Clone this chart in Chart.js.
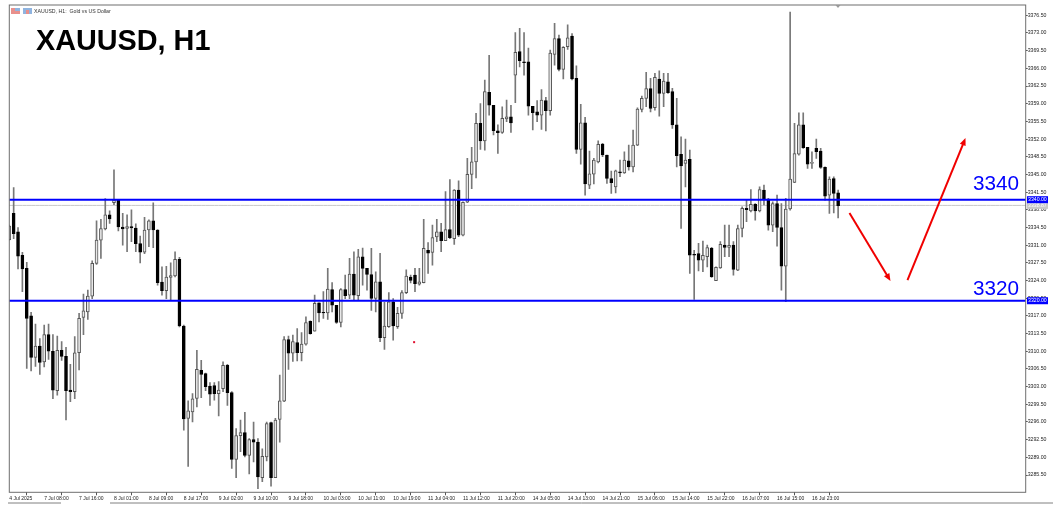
<!DOCTYPE html>
<html>
<head>
<meta charset="utf-8">
<title>XAUUSD, H1</title>
<script src="https://cdn.jsdelivr.net/npm/chart.js@4"></script>
<style>
  html, body { margin: 0; padding: 0; background: #fff; }
  canvas { display: block; }
</style>
</head>
<body>
<canvas id="chart" width="1053" height="509"></canvas>
<script>
"use strict";

const opens = [
  3332.1,3337.3,3333.65,3329,3326.4,3317,3308.8,3311,3307.9,3313.3,
  3310,3302.2,3310.2,3309,3302.3,3302,3309.7,3316.7,3317.8,3320.9,
  3327.4,3332,3334.2,3337,3339.4,3339.9,3334.6,3334.3,3334.7,3334.4,
  3331.3,3329.6,3334,3335.8,3334,3323.7,3322,3324.6,3324.9,3328.2,
  3315,3296.7,3298,3300.65,3306.2,3305.6,3303.1,3303.2,3301.6,3302.6,
  3307.2,3301.8,3288.6,3293.3,3293.9,3289.4,3292.5,3292,3285,3289.1,
  3295.9,3285,3296.5,3300.1,3312.3,3309.6,3311.7,3309.7,3311.4,3315.9,
  3314,3319.6,3317.7,3317.6,3322.2,3319.1,3315.7,3322.2,3321.1,3325.3,
  3321,3328.7,3326.4,3325.2,3320.45,3323.75,3312.7,3314.85,3319.8,3314.85,
  3317.5,3321.6,3324.7,3325.1,3323.3,3323.6,3330,3329.55,3332.65,3333.65,
  3331.9,3334.1,3332.3,3341.9,3333,3339.5,3345,3347.5,3355.1,3351.65,
  3361.25,3358.7,3353.65,3353.3,3356,3356.4,3364.65,3369.3,3367.3,3367.3,
  3358.5,3357.4,3356.75,3359.6,3357.6,3368.75,3371.9,3365.8,3370.3,3372.4,
  3364,3349.95,3355.2,3342.9,3345.05,3347.5,3351,3348.85,3344.2,3342.55,
  3345.5,3345.3,3347.7,3346.5,3350.8,3357.85,3360.05,3362,3358.2,3363.9,
  3361.05,3363.35,3361.4,3354.8,3349,3347.2,3348,3329.2,3329.35,3328.05,
  3328.7,3330.35,3323.95,3326.5,3331,3330.55,3331,3326.05,3334.3,3338.3,
  3337.8,3339.1,3337.8,3341.9,3340.1,3334.95,3339.25,3334.5,3326.85,3338.15,
  3343.4,3349,3354.8,3350.35,3347.2,3350.15,3349.6,3346.4,3340.9,3344.2,3341.35
];
const highs = [
  3335,3342.4,3334.5,3329.6,3327.6,3317.7,3315.4,3312.5,3315.2,3315.4,
  3313.3,3313,3311.9,3310.8,3307.4,3312.9,3317.5,3321.3,3322.1,3327.9,
  3335.8,3336.1,3340.2,3337.8,3345.9,3339.9,3337.3,3337,3338,3335.2,
  3332.8,3336.5,3336,3339.4,3334.1,3326.7,3326.8,3327.5,3329.7,3328.6,
  3315.2,3300.2,3301.6,3310.2,3308.2,3305.7,3303.8,3303.8,3304,3307.9,
  3307.4,3302,3294.7,3296.4,3297.9,3292.7,3296,3292.7,3290.7,3296,
  3296,3296.7,3305.3,3312.9,3313,3313.2,3314.5,3313.7,3316.8,3316,
  3321.1,3319.6,3321.8,3326.4,3323.6,3319.1,3322.4,3325.1,3328.4,3329.7,
  3330.2,3330.4,3326.4,3330.35,3325.7,3329.4,3319.7,3321.6,3320.45,3318.7,
  3322,3326.1,3325.1,3326.4,3326.4,3336.1,3331.5,3335,3336.1,3335.3,
  3341.6,3344,3342,3343.75,3339.6,3348.2,3350.35,3357.1,3359.05,3363.7,
  3368.6,3358.7,3354.8,3358.4,3359.7,3358.7,3373.1,3373.9,3373.1,3370,
  3358.5,3359.6,3361.8,3360.25,3369.6,3374.9,3372.6,3370.3,3374.6,3372.9,
  3366.5,3358.9,3356.3,3349.6,3348.2,3351.65,3351.15,3348.85,3345.65,3345.85,
  3347.85,3349.5,3350.8,3353.8,3358.2,3360.5,3365.2,3364,3365,3365.5,
  3365,3365,3362.05,3360.05,3352.45,3352,3349.8,3330,3331.35,3331.8,
  3331,3330.55,3326.7,3331.7,3335,3335,3331.7,3335,3338.6,3339.9,
  3342,3339.25,3342.55,3342.9,3340.25,3339.6,3340.9,3339.25,3340.25,3377.15,
  3355.1,3357.2,3357.2,3350.35,3349.5,3352,3350.15,3346.5,3344.55,3344.55,3341.9
];
const lows = [
  3332,3332.3,3326.3,3321.8,3306.6,3306.1,3307,3305.4,3306.9,3308.4,
  3300.6,3301.3,3308.2,3296.4,3300,3300.6,3306.3,3313.3,3316.3,3320.4,
  3327.2,3328.4,3334,3335.3,3339,3333.8,3331,3329.7,3331.7,3329.7,
  3327.5,3329.3,3330.7,3330.5,3323.1,3321.1,3320.4,3320.1,3324.7,3314.8,
  3294.4,3287.2,3296,3299,3300.8,3302.2,3299.3,3300.3,3297.2,3302,
  3299.3,3286.8,3285,3290.1,3289.1,3285.7,3288.1,3282.8,3284.2,3288.3,
  3283.3,3285,3292,3300,3306.4,3308,3308.1,3308.1,3311.2,3313.4,
  3314,3315.8,3316.5,3316.3,3317.8,3315.5,3314.8,3320.4,3320.4,3320.1,
  3320.1,3323.1,3322.1,3318.1,3317.8,3311.9,3310.35,3314.7,3312.2,3314.5,
  3316.5,3321.4,3323.55,3321.8,3323.1,3323.55,3325.4,3327.05,3331.7,3329.7,
  3331.9,3332.3,3331.15,3332.7,3332.85,3339.4,3342.2,3344.3,3349.95,3349.8,
  3356.75,3352.8,3349.15,3353.1,3355.45,3353.3,3359.2,3366.3,3364.65,3356.75,
  3353.8,3355.45,3353.9,3353.6,3356.75,3366.65,3365.5,3363.9,3369.75,3363.7,
  3349.15,3347.05,3340.9,3342.2,3343.1,3347.3,3348.5,3343.2,3341.25,3341.35,
  3344.55,3345.2,3345.85,3345.5,3350.7,3357.4,3358.4,3357.4,3357.7,3356.55,
  3358.4,3361.05,3354.1,3346.5,3334.3,3342.55,3325.4,3320.25,3325.9,3325.75,
  3326.7,3324.6,3323.95,3326.4,3328.7,3328.7,3325.05,3325.95,3332.65,3335.65,
  3337.6,3335.95,3337.6,3338.95,3333.95,3333.65,3330.8,3322.1,3319.8,3337.95,
  3343.35,3348.8,3350.15,3346.2,3346.2,3348.15,3346.2,3339.9,3337.3,3337.4,3336.4
];
const closes = [
  3334.8,3333.3,3328.8,3326.3,3316.5,3308.8,3311,3307.8,3313.3,3310,
  3302.3,3310.2,3309,3302.2,3302,3309.7,3316.5,3318,3320.9,3327.4,
  3332,3334.3,3337,3336.2,3339.9,3334.6,3334.2,3334.7,3334.4,3331.3,
  3329.6,3334,3335.8,3334,3323.6,3322,3324.7,3325,3328.2,3315,
  3296.6,3298.2,3300.6,3306.4,3305.4,3303,3301.5,3301.6,3302.3,3307.2,
  3301.8,3288.6,3293.3,3293.9,3289.4,3292.5,3292,3285.1,3289.2,3295.7,
  3285,3296.4,3300.2,3312.3,3309.6,3311.9,3309.7,3311.4,3315.7,3313.5,
  3319.5,3317.6,3317.6,3322.3,3319.1,3315.7,3322.2,3321,3325.3,3321.1,
  3328.7,3326.4,3325.2,3320.45,3323.75,3312.7,3315,3319.8,3315,3317.5,
  3321.6,3324.9,3324,3323.4,3323.75,3330.35,3329.4,3332.5,3333.65,3331.9,
  3334.1,3332.5,3341.9,3333,3339.5,3345,3347.5,3355.1,3351.65,3361.4,
  3358.7,3353.65,3353.25,3356.1,3356.4,3355.2,3369.15,3367.5,3367.1,3358.5,
  3357.25,3356.75,3359.7,3357.6,3369,3371.9,3365.8,3370.15,3372.05,3363.9,
  3349.95,3355.2,3343.1,3345.1,3347.85,3350.95,3348.85,3344.2,3343.35,3345.7,
  3345.3,3347.85,3346.5,3350.8,3357.95,3360.05,3362,3358.05,3364.2,3361.05,
  3363.5,3361.2,3354.8,3348.7,3346.7,3347.85,3329,3329,3328.05,3329,
  3330.5,3324.75,3326.6,3331.15,3330.55,3330.95,3326.2,3334.3,3338.3,3338.05,
  3339.1,3337.8,3342,3340.1,3334.95,3339.25,3334.5,3326.85,3338.15,3344.1,
  3349.15,3354.8,3350.3,3347.05,3347.4,3349.5,3346.4,3340.7,3344.1,3341.25,3338.8
];

const xTickBars = [0,8,16,24,32,40,48,56,64,72,80,88,96,104,112,120,128,136,144,152,160,168,176,184];
const xTickLabels = [
  "4 Jul 2025","7 Jul 08:00","7 Jul 16:00","8 Jul 01:00","8 Jul 09:00","8 Jul 17:00",
  "9 Jul 02:00","9 Jul 10:00","9 Jul 18:00","10 Jul 03:00","10 Jul 11:00","10 Jul 19:00",
  "11 Jul 04:00","11 Jul 12:00","11 Jul 20:00","14 Jul 05:00","14 Jul 13:00","14 Jul 21:00",
  "15 Jul 06:00","15 Jul 14:00","15 Jul 22:00","16 Jul 07:00","16 Jul 15:00","16 Jul 23:00"
];
const yTicks = [
  3376.5,3373,3369.5,3366,3362.5,3359,3355.5,3352,3348.5,3345,3341.5,3338,3334.5,3331,
  3327.5,3324,3320.5,3317,3313.5,3310,3306.5,3303,3299.5,3296,3292.5,3289,3285.5
];
const levelHigh = 3340;
const levelLow = 3320;
const lastPrice = 3338.87;
// arrows: [bar, price] start and end, bars run past the last candle
const arrowDown = [[192.6, 3337.35], [202.0, 3323.9]];
const arrowUp = [[205.9, 3324.1], [219.2, 3352.2]];
const redDot = [92.8, 3311.8];

const totalBars = 234; // candles plus the empty shift on the right
const barSlots = Array.from({length: totalBars}, (_, i) => String(i));
const onSlots = v => barSlots.map(() => v);

const blue = "#0000ff";
const fontName = "'Liberation Sans', Arial, sans-serif";

function drawArrow(ctx, xs, ys, pts) {
  const x0 = xs.getPixelForValue(pts[0][0]), y0 = ys.getPixelForValue(pts[0][1]);
  const x1 = xs.getPixelForValue(pts[1][0]), y1 = ys.getPixelForValue(pts[1][1]);
  const a = Math.atan2(y1 - y0, x1 - x0);
  ctx.strokeStyle = "#f00000";
  ctx.fillStyle = "#f00000";
  ctx.lineWidth = 2;
  ctx.beginPath();
  ctx.moveTo(x0, y0);
  ctx.lineTo(x1 - 4 * Math.cos(a), y1 - 4 * Math.sin(a));
  ctx.stroke();
  ctx.beginPath();
  ctx.moveTo(x1, y1);
  ctx.lineTo(x1 - 8 * Math.cos(a - 0.4), y1 - 8 * Math.sin(a - 0.4));
  ctx.lineTo(x1 - 8 * Math.cos(a + 0.4), y1 - 8 * Math.sin(a + 0.4));
  ctx.closePath();
  ctx.fill();
}

function priceTag(ctx, ys, price, bg, fg) {
  const y = ys.getPixelForValue(price);
  ctx.fillStyle = bg;
  ctx.fillRect(1027, y - 3.5, 21, 7);
  ctx.fillStyle = fg;
  ctx.font = "5.2px " + fontName;
  ctx.textAlign = "left";
  ctx.textBaseline = "middle";
  ctx.fillText(price.toFixed(2), 1028, y);
}

const overlay = {
  id: "overlay",
  afterDraw(chart) {
    const ctx = chart.ctx, area = chart.chartArea;
    const xs = chart.scales.x, ys = chart.scales.y;
    ctx.save();

    // frame
    ctx.strokeStyle = "#6e6e6e";
    ctx.lineWidth = 1;
    ctx.strokeRect(area.left, area.top, area.right - area.left, area.bottom - area.top);

    // window edge under the time axis
    ctx.strokeStyle = "#808080";
    ctx.beginPath();
    ctx.moveTo(8, 503); ctx.lineTo(61, 503);
    ctx.moveTo(110, 503); ctx.lineTo(1053, 503);
    ctx.stroke();

    // little header icons
    ctx.fillStyle = "#e8908c"; ctx.fillRect(11, 8, 9, 6);
    ctx.fillStyle = "#8fb4e0"; ctx.fillRect(15, 8, 5, 3);
    ctx.fillStyle = "#8fb4e0"; ctx.fillRect(23, 8, 9, 6);
    ctx.fillStyle = "#e8908c"; ctx.fillRect(26, 10, 3, 4);

    // chart shift marker on the top edge
    ctx.fillStyle = "#999";
    ctx.beginPath();
    ctx.moveTo(835.5, 5); ctx.lineTo(840.5, 5); ctx.lineTo(838, 8);
    ctx.closePath();
    ctx.fill();

    ctx.fillStyle = "#333";
    ctx.font = "5.2px " + fontName;
    ctx.textAlign = "left";
    ctx.textBaseline = "alphabetic";
    ctx.fillText("XAUUSD, H1:  Gold vs US Dollar", 34, 13);

    ctx.fillStyle = "#000";
    ctx.font = "bold 28.8px " + fontName;
    ctx.fillText("XAUUSD, H1", 36, 50);

    ctx.fillStyle = blue;
    ctx.font = "20.7px " + fontName;
    ctx.fillText("3340", 973, 190);
    ctx.fillText("3320", 973, 295);

    priceTag(ctx, ys, lastPrice, "#c8c8c8", "#fff");
    priceTag(ctx, ys, levelHigh, blue, "#fff");
    priceTag(ctx, ys, levelLow, blue, "#fff");

    drawArrow(ctx, xs, ys, arrowDown);
    drawArrow(ctx, xs, ys, arrowUp);

    ctx.fillStyle = "#e01030";
    ctx.fillRect(xs.getPixelForValue(redDot[0]) - 1, ys.getPixelForValue(redDot[1]) - 1, 2, 2);

    ctx.restore();
  }
};

new Chart(document.getElementById("chart"), {
  type: "bar",
  plugins: [overlay],
  data: {
    labels: barSlots,
    datasets: [
      {
        type: "line",
        data: onSlots(levelHigh),
        borderColor: blue,
        borderWidth: 2,
        pointRadius: 0,
        order: 0
      },
      {
        type: "line",
        data: onSlots(levelLow),
        borderColor: blue,
        borderWidth: 2,
        pointRadius: 0,
        order: 0
      },
      {
        type: "line",
        data: onSlots(lastPrice),
        borderColor: "#c8c8c8",
        borderWidth: 1,
        pointRadius: 0,
        order: 4
      },
      {
        data: opens.map((o, i) => [o, closes[i]]),
        grouped: false,
        barThickness: 3,
        borderWidth: 1,
        borderSkipped: false,
        backgroundColor: opens.map((o, i) => closes[i] >= o ? "#e8e8e8" : "#000"),
        borderColor: opens.map((o, i) => closes[i] >= o ? "#555" : "#000"),
        order: 1
      },
      {
        data: lows.map((l, i) => [l, highs[i]]),
        grouped: false,
        barThickness: 1,
        borderWidth: 0,
        backgroundColor: "#777",
        order: 2
      }
    ]
  },
  options: {
    responsive: false,
    animation: false,
    devicePixelRatio: 1,
    layout: { padding: { left: 9.3, top: 5, right: 0, bottom: 0 } },
    plugins: { legend: { display: false }, tooltip: { enabled: false } },
    scales: {
      x: {
        type: "category",
        offset: false,
        border: { display: false },
        grid: { drawOnChartArea: false, drawTicks: true, tickLength: 3, color: "#555" },
        afterBuildTicks: axis => { axis.ticks = xTickBars.map(v => ({value: v})); },
        afterFit: axis => { axis.height = 16.7; },
        ticks: {
          autoSkip: false,
          maxRotation: 0,
          align: "start",
          padding: 0,
          color: "#222",
          font: { family: fontName, size: 5 },
          callback: (v, i) => xTickLabels[i]
        }
      },
      y: {
        position: "right",
        min: 3282.08,
        max: 3378.54,
        border: { display: false },
        grid: { drawOnChartArea: false, drawTicks: true, tickLength: 2, color: "#555" },
        afterBuildTicks: axis => { axis.ticks = yTicks.map(v => ({value: v})); },
        afterFit: axis => { axis.width = 27.3; },
        ticks: {
          padding: 0,
          color: "#222",
          font: { family: fontName, size: 5.2 },
          callback: v => v.toFixed(2)
        }
      }
    }
  }
});
</script>
</body>
</html>
